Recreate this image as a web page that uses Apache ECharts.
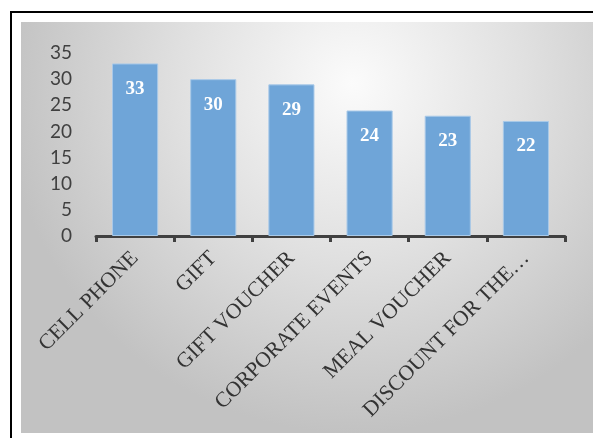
<!DOCTYPE html>
<html>
<head>
<meta charset="utf-8">
<script src="https://cdn.jsdelivr.net/npm/echarts@6/dist/echarts.min.js"></script>
<style>
  body { margin: 0; background: #fff; }
  #main { width: 593px; height: 438px; }
</style>
</head>
<body>
<div id="main"></div>
<script>
  var categories = ['CELL PHONE', 'GIFT', 'GIFT VOUCHER', 'CORPORATE EVENTS', 'MEAL VOUCHER', 'DISCOUNT FOR THE…'];
  var counts = [33, 30, 29, 24, 23, 22];
  var yTicks = { min: 0, max: 35, interval: 5 };

  var chart = echarts.init(document.getElementById('main'));
  chart.setOption({
    animation: false,
    graphic: [
      // frame lines (top + left of the outer box)
      { type: 'rect', shape: { x: 10, y: 11, width: 583, height: 2 }, style: { fill: '#000' }, z: -10 },
      { type: 'rect', shape: { x: 10, y: 11, width: 2, height: 427 }, style: { fill: '#000' }, z: -10 },
      // chart area background
      {
        type: 'rect', shape: { x: 21, y: 22, width: 572, height: 411 }, z: -10,
        style: {
          fill: new echarts.graphic.RadialGradient(0.58, 0.15, 0.85, [
            { offset: 0, color: '#fbfbfb' },
            { offset: 0.5, color: '#e0e0e0' },
            { offset: 1, color: '#c2c2c2' }
          ])
        }
      }
    ],
    grid: { left: 96, right: 28, top: 53, bottom: 202 },
    xAxis: {
      type: 'category',
      data: categories,
      axisLine: { lineStyle: { color: '#404040', width: 3 } },
      axisTick: { show: true, alignWithLabel: false, length: 6, lineStyle: { color: '#404040', width: 3 } },
      axisLabel: {
        rotate: 45,
        interval: 0,
        margin: 19,
        color: '#333',
        fontFamily: 'Liberation Serif',
        fontSize: 21.5
      }
    },
    yAxis: {
      type: 'value',
      min: yTicks.min,
      max: yTicks.max,
      interval: yTicks.interval,
      axisLine: { show: false },
      axisTick: { show: false },
      splitLine: { show: false },
      axisLabel: {
        margin: 24,
        color: '#404040',
        fontFamily: 'Lato',
        fontSize: 19
      }
    },
    series: [{
      type: 'bar',
      data: counts,
      barWidth: '59%',
      itemStyle: { color: '#6fa5d8', borderColor: '#a8c9e8', borderWidth: 1 },
      label: {
        show: true,
        position: 'insideTop',
        distance: 16,
        color: '#fff',
        fontFamily: 'Liberation Serif',
        fontWeight: 'bold',
        fontSize: 19
      }
    }]
  });
</script>
</body>
</html>
